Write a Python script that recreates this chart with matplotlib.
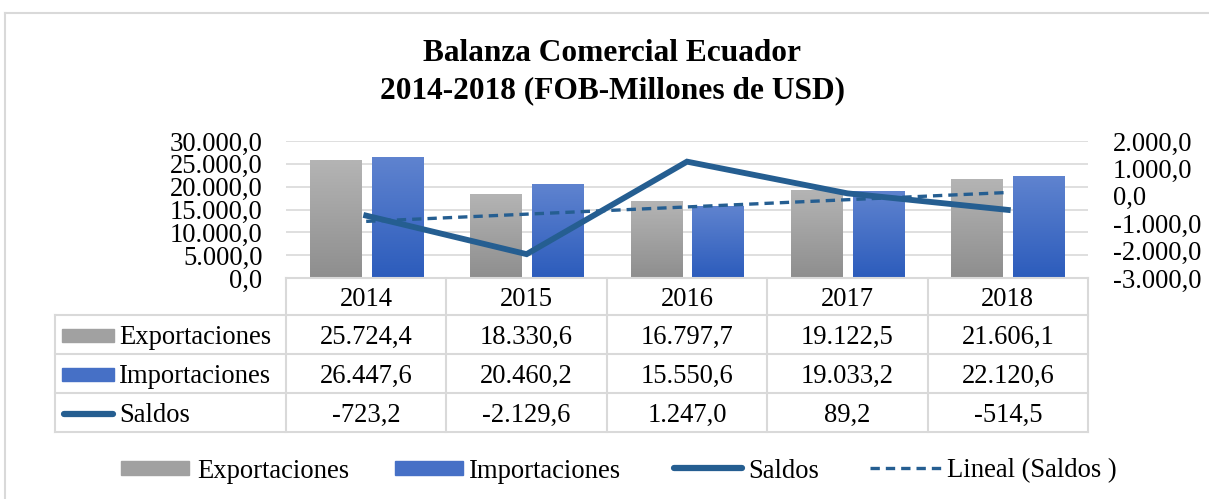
import numpy as np
import matplotlib
matplotlib.use("Agg")
import matplotlib.pyplot as plt
from matplotlib.colors import LinearSegmentedColormap
from matplotlib.lines import Line2D
from matplotlib.patches import Rectangle
from matplotlib.ticker import FuncFormatter
import matplotlib.transforms as mtransforms

# datos
anios = ["2014", "2015", "2016", "2017", "2018"]
exportaciones = [25724.4, 18330.6, 16797.7, 19122.5, 21606.1]
importaciones = [26447.6, 20460.2, 15550.6, 19033.2, 22120.6]
saldos = [-723.2, -2129.6, 1247.0, 89.2, -514.5]

titulo = "Balanza Comercial Ecuador\n2014-2018 (FOB-Millones de USD)"
ticks_izq = [0, 5000, 10000, 15000, 20000, 25000, 30000]
ticks_der = [-3000, -2000, -1000, 0, 1000, 2000]

W, H = 1209, 499
plt.rcParams['font.family'] = ['Liberation Serif', 'DejaVu Serif']
FS = 19.2
C_LINEA = "#255e91"
C_BORDE = "#d9d9d9"
DY = 3  # bajar un poco los textos (centrado visual)


def fx(x):
    return x / W


def fy(y):
    return 1 - y / H


def formato_es(v, pos=None):
    # 25724.4 -> 25.724,4
    s = f"{v:,.1f}"
    return s.replace(",", "X").replace(".", ",").replace("X", ".")


fig = plt.figure(figsize=(W / 100, H / 100), dpi=100)

# marco exterior
fig.add_artist(Line2D([fx(5), fx(W)], [fy(13), fy(13)], color=C_BORDE, lw=1.5))
fig.add_artist(Line2D([fx(5), fx(5)], [fy(13), fy(H)], color=C_BORDE, lw=1.5))

fig.text(fx(612), fy(72), titulo, ha="center", va="center", fontsize=22.6,
         fontweight="bold", linespacing=1.4)

ax = fig.add_axes([fx(286), fy(278), fx(1088 - 286), (278 - 141) / H])
x = np.arange(len(anios))
ancho = 0.318
desp = 0.193

gris = LinearSegmentedColormap.from_list("gris", ["#8e8e8e", "#b4b4b4"])
azul = LinearSegmentedColormap.from_list("azul", ["#2c5cbc", "#5f83cf"])
grad = np.linspace(0, 1, 100).reshape(-1, 1)

b1 = ax.bar(x - desp, exportaciones, ancho, color="none")
b2 = ax.bar(x + desp, importaciones, ancho, color="none")
for barras, cmap in [(b1, gris), (b2, azul)]:
    for b in barras:
        ax.imshow(grad, cmap=cmap, origin="lower", aspect="auto", zorder=2,
                  extent=[b.get_x(), b.get_x() + b.get_width(), 0, b.get_height()])

ax.set_xlim(-0.5, len(anios) - 0.5)
ax.set_ylim(0, 30000)
ax.set_yticks(ticks_izq)
ax.yaxis.set_major_formatter(FuncFormatter(formato_es))
ax.set_xticks([])
ax.grid(axis="y", color=C_BORDE, lw=1.2, zorder=0)
ax.set_axisbelow(True)
ax.tick_params(axis="y", length=0, labelsize=FS, pad=17)
for s in ax.spines.values():
    s.set_visible(False)

ax2 = ax.twinx()
ax2.set_ylim(-3000, 2000)
ax2.set_yticks(ticks_der)
ax2.yaxis.set_major_formatter(FuncFormatter(formato_es))
ax2.tick_params(axis="y", length=0, labelsize=FS, pad=18)
for s in ax2.spines.values():
    s.set_visible(False)
ax2.plot(x, saldos, color=C_LINEA, lw=4.2, solid_joinstyle="miter", zorder=3)
m, b = np.polyfit(x, saldos, 1)
ax2.plot(x, m * x + b, color=C_LINEA, lw=2.4, linestyle=(0, (2.8, 1.8)), zorder=3)

# tabla de datos
tr = mtransforms.blended_transform_factory(ax.transData, fig.transFigure)
filas_y = [278, 315, 354, 393, 432]
for xi in np.arange(-0.5, len(anios)):
    fig.add_artist(Line2D([xi, xi], [fy(278), fy(432)], transform=tr,
                          color=C_BORDE, lw=1.5))
fig.add_artist(Line2D([fx(286), fx(1088)], [fy(278), fy(278)], color=C_BORDE, lw=1.5))
for yy in filas_y[1:]:
    fig.add_artist(Line2D([fx(55), fx(1088)], [fy(yy), fy(yy)], color=C_BORDE, lw=1.5))
fig.add_artist(Line2D([fx(55), fx(55)], [fy(315), fy(432)], color=C_BORDE, lw=1.5))

for i, a in enumerate(anios):
    fig.text(i, fy(297 + DY), a, transform=tr, ha="center", va="center", fontsize=FS)

series = [("Exportaciones", exportaciones), ("Importaciones", importaciones),
          ("Saldos", saldos)]
for k, (nombre, vals) in enumerate(series):
    yc = (filas_y[k + 1] + filas_y[k + 2]) / 2
    for i, v in enumerate(vals):
        fig.text(i, fy(yc + DY), formato_es(v), transform=tr, ha="center",
                 va="center", fontsize=FS)
    fig.text(fx(119), fy(yc + DY), nombre, ha="left", va="center", fontsize=FS)
    if k < 2:
        cm = gris if k == 0 else azul
        fig.add_artist(Rectangle((fx(62), fy(yc + 7)), fx(52), 13 / H,
                                 color=cm(0.5), transform=fig.transFigure))
    else:
        fig.add_artist(Line2D([fx(64), fx(113)], [fy(yc + 1), fy(yc + 1)],
                              color=C_LINEA, lw=4.5, solid_capstyle="round"))

# leyenda inferior
ly = 468
fig.add_artist(Rectangle((fx(121), fy(ly + 7)), fx(68), 14 / H, color=gris(0.5)))
fig.text(fx(197), fy(ly + DY), "Exportaciones", ha="left", va="center", fontsize=FS)
fig.add_artist(Rectangle((fx(395), fy(ly + 7)), fx(68), 14 / H, color=azul(0.5)))
fig.text(fx(469), fy(ly + DY), "Importaciones", ha="left", va="center", fontsize=FS)
fig.add_artist(Line2D([fx(674), fx(742)], [fy(ly), fy(ly)], color=C_LINEA, lw=4.5,
                      solid_capstyle="round"))
fig.text(fx(748), fy(ly + DY), "Saldos", ha="left", va="center", fontsize=FS)
fig.add_artist(Line2D([fx(870), fx(942)], [fy(ly), fy(ly)], color=C_LINEA, lw=2.4,
                      linestyle=(0, (2.8, 1.8))))
fig.text(fx(947), fy(ly + DY), "Lineal (Saldos )", ha="left", va="center", fontsize=FS)

fig.savefig("out.png", dpi=100)
